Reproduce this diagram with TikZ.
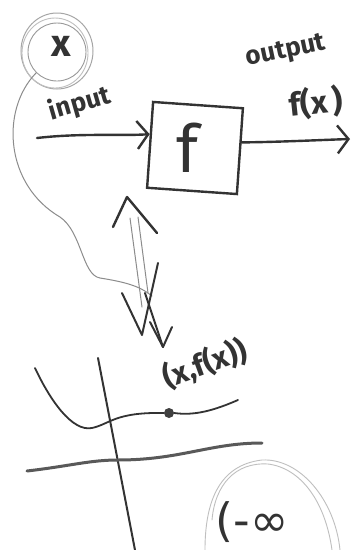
\documentclass[tikz,border=0pt]{standalone}
\usepackage{fontspec}
\setmainfont{Fira Sans}
\newfontfamily\symfont{DejaVu Sans}
\usetikzlibrary{arrows.meta,calc}
\begin{document}
\begin{tikzpicture}[x=1pt,y=-1pt,
  ink/.style={draw=black!80,line width=2.4pt,line cap=round,line join=round},
  pencil/.style={draw=black!45,line width=1pt,line cap=round},
  faint/.style={draw=black!25,line width=0.9pt,line cap=round},
  barb/.style={-{Straight Barb[length=11pt,width=28pt,line width=2.4pt]}},
  hand/.style={text=black!80,inner sep=0pt}]
\useasboundingbox[fill=white] (0,0) rectangle (356,550);

% input circle
\node[circle,draw=black!40,line width=0.9pt,minimum size=58pt,inner sep=0pt] (xin) at (57,52) {};
\node[hand,font=\fontsize{38}{38}\selectfont\bfseries] (xlab) at (61,46) {x};
\draw[draw=black!35,line width=1pt] (57,51) ellipse (36 and 38);
\draw[faint] (55,53) ellipse (33 and 35);

% gray loop from circle to the crossing
\coordinate (loopEnd) at (152,296);
\draw[pencil] (xin.south west) .. controls (0,110) and (5,185) .. (60,217)
  .. controls (82,232) and (82,275) .. (100,278)
  .. controls (125,282) and (140,286) .. (loopEnd);

% function box
\node[draw=black!80,line width=2.4pt,rotate=-4,minimum width=90pt,minimum height=86pt,inner sep=0pt] (box) at (195,148) {};
\node[hand,font=\fontsize{66}{66}\selectfont] (flab) at (188,148) {f};

% input arrow
\coordinate (inS) at (37,138);
\draw[ink,barb] (inS) .. controls (80,133) and (120,136) .. ($(box.north west)!0.38!(box.south west)$);
\node[hand,rotate=16,font=\fontsize{26}{26}\selectfont\bfseries] (input) at (80,104) {input};

% output arrow
\coordinate (outE) at (350,139);
\draw[ink,barb] ($(box.north east)!0.4!(box.south east)$) .. controls (280,142) and (320,140) .. (outE);
\node[hand,rotate=12,font=\fontsize{26}{26}\selectfont\bfseries] (output) at (286,52) {output};
\node[hand,rotate=6,font=\fontsize{32}{32}\selectfont\bfseries] (fx) at (316,103) {f(x\,)};

% double arrow
\coordinate (upTip) at (127,197);
\draw[ink] (113,227) -- (upTip) -- (157,233);
\draw[pencil] (130,218) -- (142,307);
\draw[pencil] (138,217) -- (148,293);
\coordinate (dnTip) at (142,335);
\draw[ink,line width=2pt] (122,293) -- (dnTip) -- (158,263);
\coordinate (dnTip2) at (163,347);
\draw[ink,line width=2pt] (145,293) -- (dnTip2);
\draw[ink,line width=2pt] (150,322) -- (dnTip2) -- (172,327);

% graph
\node[hand,rotate=20,font=\fontsize{30}{30}\selectfont\bfseries] (pair) at (205,364) {(x,f(x))};
\coordinate (yTop) at (98,358);
\coordinate (yBot) at (135,550);
\draw[ink,line width=2pt] (yTop) -- (yBot);
\node[circle,fill=black!75,inner sep=0pt,minimum size=10pt] (dot) at (169,413) {};
\draw[ink,line width=1.8pt] (35,368) .. controls (50,400) and (72,432) .. (92,428)
  .. controls (110,424) and (115,412) .. (dot.west);
\draw[ink,line width=1.8pt] (dot.east) .. controls (195,416) and (215,410) .. (238,400);
\draw[draw=black!65,line width=3pt,line cap=round] (27,471) .. controls (70,466) and (90,460) .. (118,460)
  .. controls (180,460) and (210,443) .. (262,443);

% -infinity
\draw[faint] (205,550) .. controls (205,500) and (220,465) .. (262,460)
  .. controls (300,458) and (335,500) .. (340,550);
\draw[faint] (212,520) .. controls (215,485) and (235,462) .. (268,464)
  .. controls (300,468) and (325,500) .. (332,550);
\node[hand,font=\fontsize{46}{46}\selectfont\symfont] (minf) at (252,522) {(-∞};
\end{tikzpicture}
\end{document}
